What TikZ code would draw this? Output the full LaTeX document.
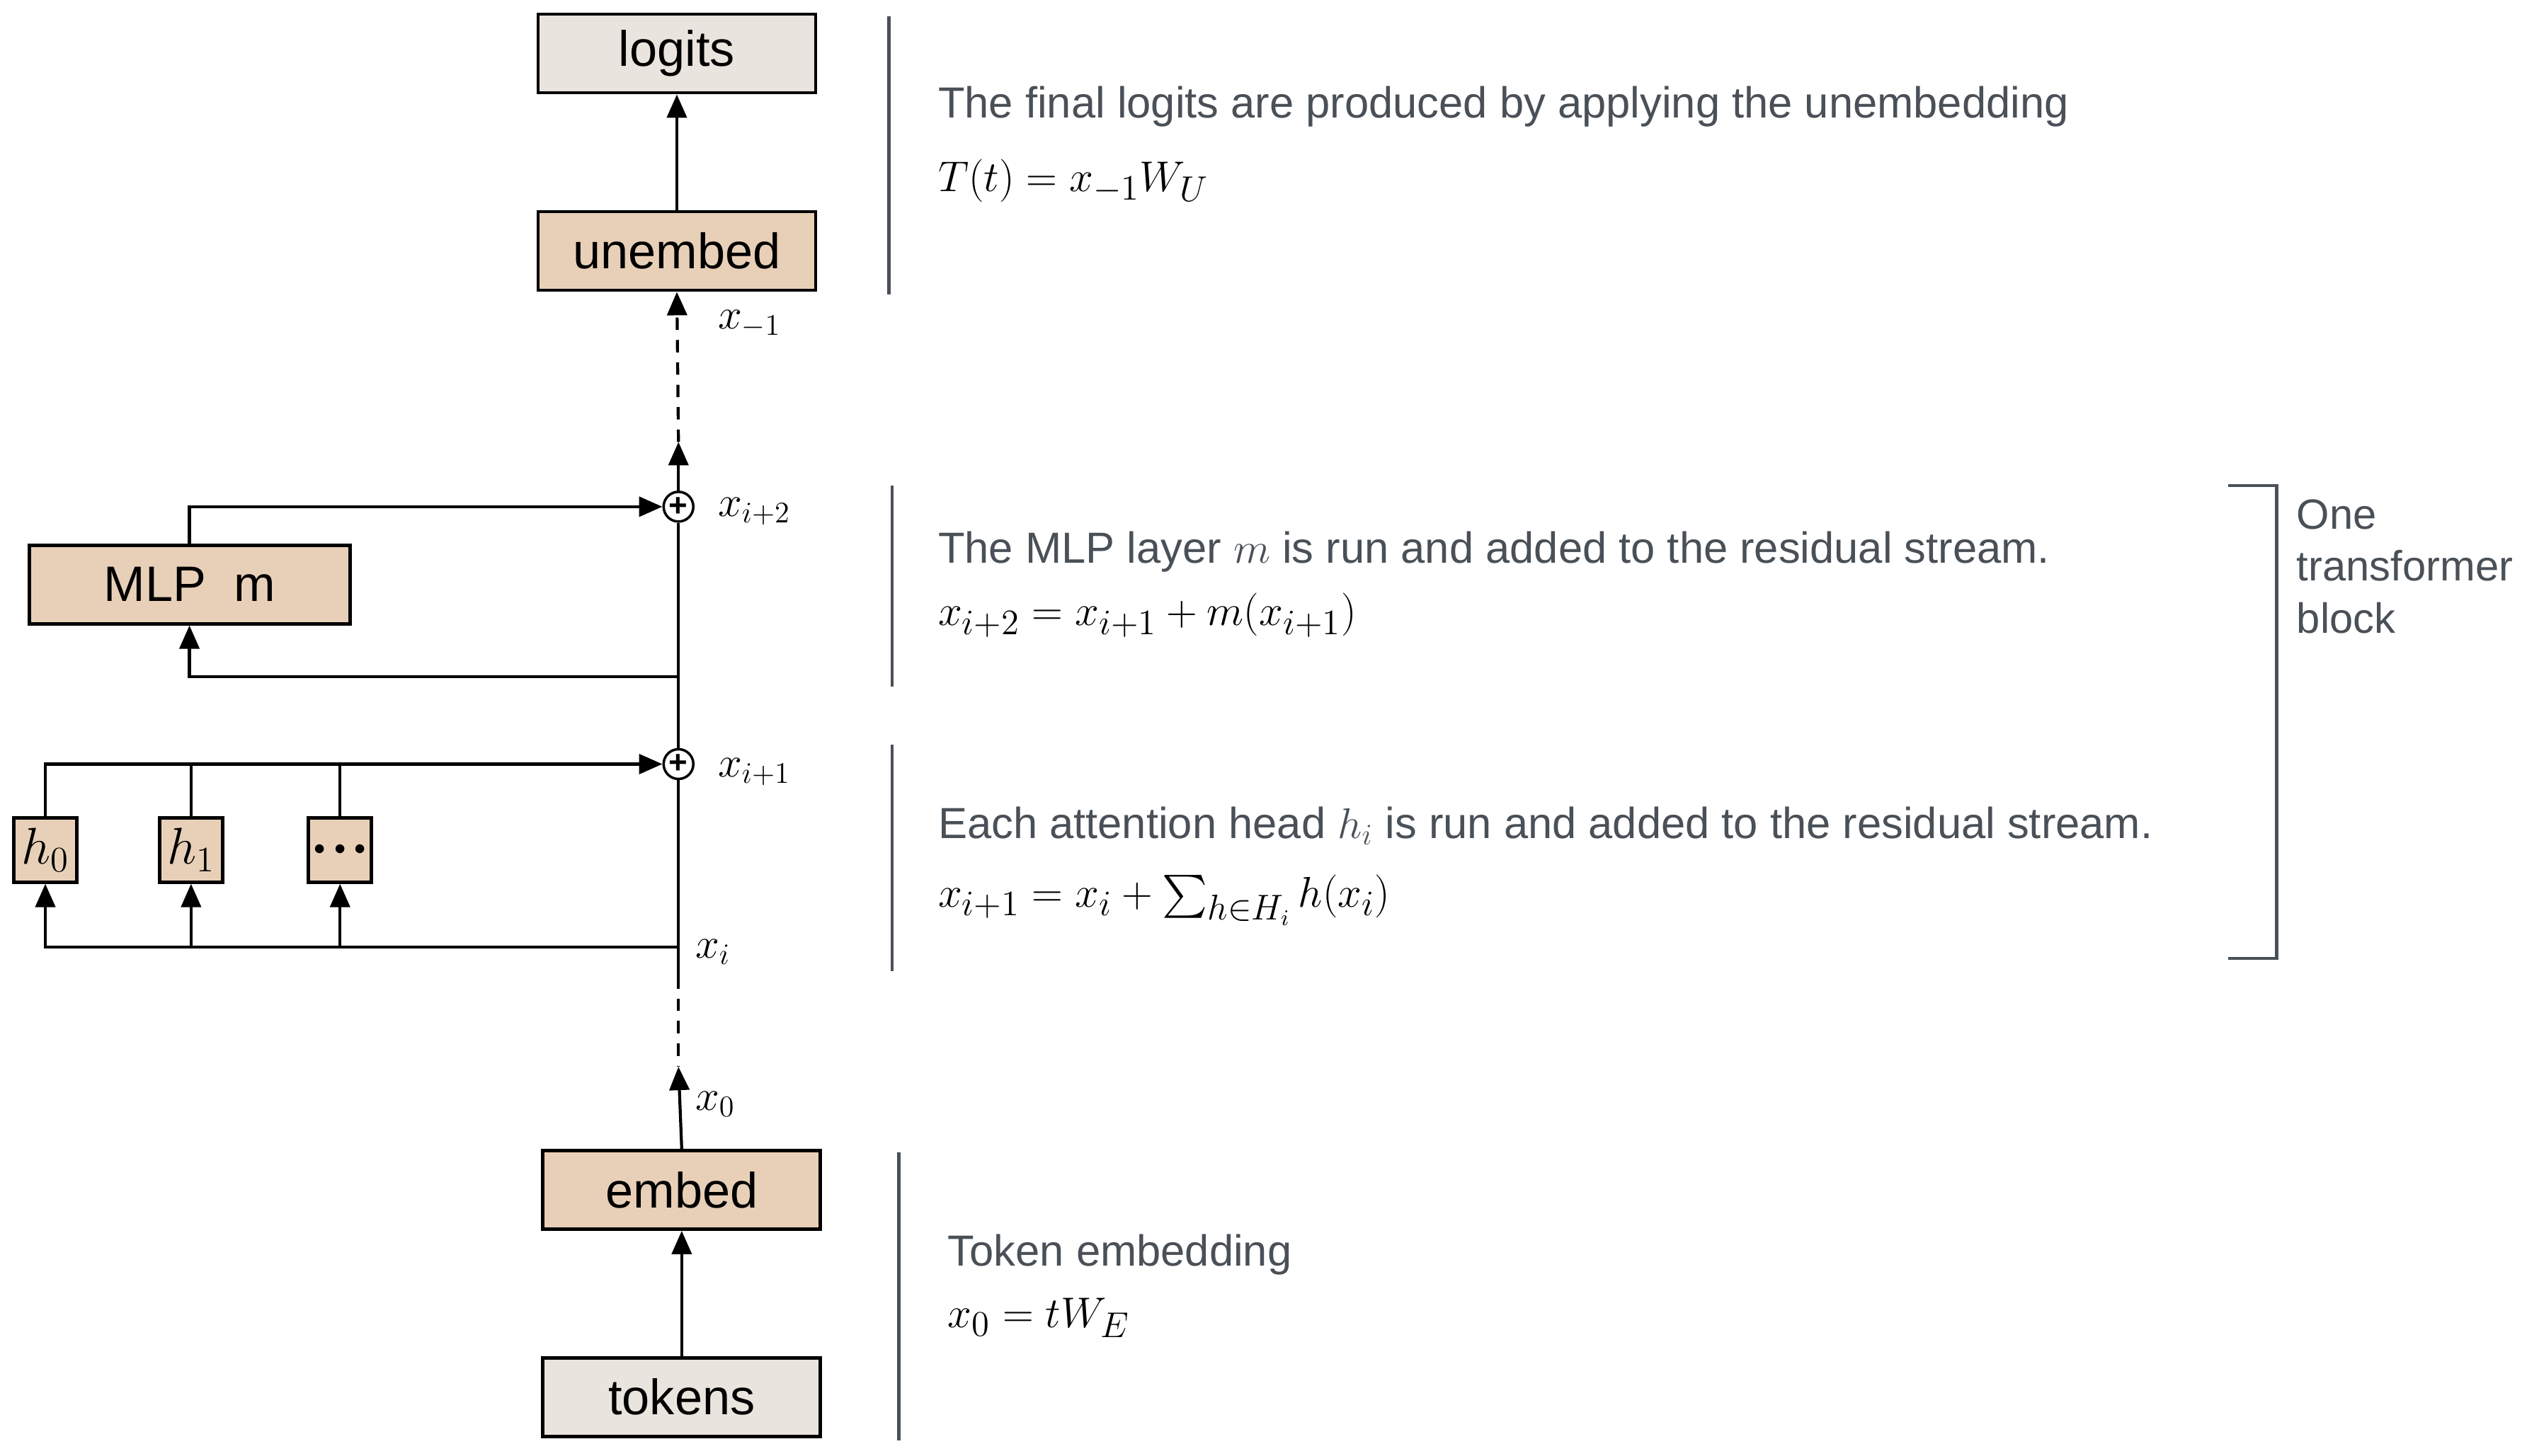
\documentclass[tikz,border=0pt]{standalone}
\usepackage{fontspec}
\setmainfont{Liberation Sans}
\usepackage{amsmath}
\usepackage{xcolor}
\usepackage{tikz}
\usetikzlibrary{arrows.meta}
\definecolor{tan}{HTML}{E8D0B8}
\definecolor{paper}{HTML}{EAE4DE}
\definecolor{note}{HTML}{495057}

\begin{document}
\begin{tikzpicture}[x=0.2287mm, y=-0.2287mm,
  block/.style={draw=black, line width=1.4pt, fill=tan, minimum width=39.2mm, minimum height=11.1mm, font=\fontsize{20}{24}\selectfont},
  head/.style={draw=black, line width=1.4pt, fill=tan, minimum width=8.9mm, minimum height=9.1mm, inner sep=0pt, font=\fontsize{20}{24}\selectfont},
  plus/.style={draw=black, line width=1pt, circle, fill=white, minimum size=4.2mm, inner sep=0pt, font=\bfseries\fontsize{13}{13}\selectfont},
  arr/.style={line width=1.2pt, -{Triangle[length=3.3mm,width=2.8mm]}},
  wire/.style={line width=1.2pt},
  lbl/.style={anchor=west, font=\fontsize{18}{20}\selectfont},
  txt/.style={anchor=west, text=note, font=\fontsize{17.5}{21}\selectfont},
  eqn/.style={anchor=west, font=\fontsize{19}{22}\selectfont},
  bar/.style={draw=note, line width=1.3pt}]
  \useasboundingbox (0,0) rectangle (1568,899);

  \node[block, fill=paper] (logits) at (418,33) {logits};
  \node[block] (unembed) at (418,155) {unembed};
  \node[block, minimum width=45.3mm] (mlp) at (117,361) {MLP\; m};
  \node[head] (hzero) at (28,525) {$h_0$};
  \node[head] (hone) at (118,525) {$h_1$};
  \node[head] (hdots) at (210,525) {\fontsize{9}{9}\selectfont$\bullet\,\bullet\,\bullet$};
  \node[block] (embed) at (421,735) {embed};
  \node[block, fill=paper] (tokens) at (421,863) {tokens};
  \node[plus] (plustwo) at (419,313) {+};
  \node[plus] (plusone) at (419,472) {+};

  \coordinate (dashtop) at (419,273);
  \coordinate (mlpin) at (419,418);
  \coordinate (xi) at (419,585);
  \coordinate (dashlow) at (419,603);
  \coordinate (xzero) at (419,659);

  \node[lbl] (xminus) at (438,200) {$x_{-1}$};
  \node[lbl] (xtwo) at (438,316) {$x_{i+2}$};
  \node[lbl] (xone) at (438,477) {$x_{i+1}$};
  \node[lbl] (xilbl) at (424,588) {$x_i$};
  \node[lbl] (xzerolbl) at (424,682) {$x_0$};

  \draw[arr] (unembed) -- (logits);
  \draw[arr] (plustwo.north) -- (dashtop);
  \draw[arr, dash pattern=on 5pt off 4pt] (dashtop) -- (unembed.south);
  \draw[arr] (mlp.north) |- (plustwo.west);
  \draw[arr] (mlpin) -| (mlp.south);
  \draw[wire] (plusone.north) -- (plustwo.south);
  \draw[arr] (hzero.north) |- (plusone.west);
  \draw[wire] (hone.north) -- (hone.north |- plusone.west);
  \draw[wire] (hdots.north) -- (hdots.north |- plusone.west);
  \draw[arr] (xi) -| (hzero.south);
  \draw[arr] (hone.south |- xi) -- (hone.south);
  \draw[arr] (hdots.south |- xi) -- (hdots.south);
  \draw[wire] (plusone.south) -- (dashlow);
  \draw[wire, dash pattern=on 5pt off 4pt] (dashlow) -- (xzero);
  \draw[arr] (embed.north) -- (xzero);
  \draw[arr] (tokens) -- (embed);

  \draw[bar] (549,10) -- (549,182);
  \draw[bar] (551,300) -- (551,424);
  \draw[bar] (551,460) -- (551,600);
  \draw[bar] (555,712) -- (555,890);
  \draw[bar] (1376,300) -- (1406,300) -- (1406,592) -- (1376,592);

  \node[txt] (notelogits) at (574,66) {The final logits are produced by applying the unembedding};
  \node[eqn] (eqlogits) at (574,112) {$T(t) = x_{-1}W_U$};
  \node[txt] (notemlp) at (574,341) {The MLP layer $m$ is run and added to the residual stream.};
  \node[eqn] (eqmlp) at (574,380) {$x_{i+2} = x_{i+1} + m(x_{i+1})$};
  \node[txt] (noteattn) at (574,510) {Each attention head $h_i$ is run and added to the residual stream.};
  \node[eqn] (eqattn) at (574,556) {$x_{i+1} = x_i + \sum_{h\in H_i} h(x_i)$};
  \node[txt] (noteembed) at (580,775) {Token embedding};
  \node[eqn] (eqembed) at (580,814) {$x_0 = tW_E$};
  \node[txt, anchor=north west, align=left, font=\fontsize{17}{21}\selectfont] (block) at (1413,303) {One\\transformer\\block};
\end{tikzpicture}
\end{document}
